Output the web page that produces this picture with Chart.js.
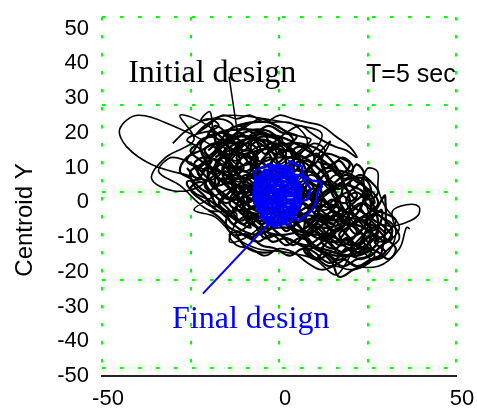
<!DOCTYPE html>
<html><head><meta charset="utf-8">
<script src="https://cdn.jsdelivr.net/npm/chart.js@4"></script>
<style>html,body{margin:0;padding:0;background:#fff;}canvas{display:block;}</style>
</head><body>
<canvas id="c" width="477" height="409"></canvas>
<script>
// ---- tick values / labels ----
const xTickValues = [-50, -25, 0, 25, 50];
const xTickLabels = ['-50', '', '0', '', '50'];
const yGridValues = [-50, -25, 0, 25, 50];
const yTickValues = [-50, -40, -30, -20, -10, 0, 10, 20, 30, 40, 50];
const yTickLabels = ['-50', '-40', '-30', '-20', '-10', '0', '10', '20', '30', '40', '50'];

// ---- series: centroid trajectories [x, y] ----
const initialOuter = [
  [-12,8],[-20,14],[-30,19],[-40,22],[-45,18],[-43,13],[-36,8],[-26,5],[-18,4],
  [-14,12],[-20,19],[-28,22],[-24,15],[-32,10],[-36,4],[-30,0.5],[-22,2],[-18,8],
  [-10,19],[-2,20],[4,19.5],[8,14],[2,8],
  [-8,4],[-20,-2],[-24,-5],[-18,-7],[-12,-13],[-6,-16],[2,-17],[10,-19],[16,-23.5],[19,-20],
  [22,-15],[26,-19],[30,-18],[33,-12],[32,-5.4],[36,-3.5],[39.5,-4],[39.3,-6.5],[36,-8.5],
  [31,-9.5],[26,-7],[24,2],[24.9,6.8],[27.8,6],[28,1],[30,-4],[34,-10],[30,-14],[24,-12],
  [18,-4],[12,8],[14.5,14.5],[12,12],[6,4],
  [0,-4],[-8,-12],[-14,-14],[-12,-6],[-20,-5],[-28,2],[-34,6],[-30,10],[-20,6],[-12,2],
  [0,6],[10,12],[12,17],[6,19],[-4,21],[-14,22],[-22,20.5],[-19.5,23],[-18,16],[-10,10],
  [0,0],[10,-10],[20,-20],[28,-21],[34,-16],[36,-10],[37,-10.3]
];
const initialCore = [
  [-18,10],[-10,15],[-2,14],[2,8],[-4,2],[-12,0],[-16,6],[-12,12],[-4,16],[4,12],[8,4],
  [4,-4],[-4,-6],[-10,-2],[-8,6],[0,10],[8,8],[12,0],[10,-8],[2,-12],[-6,-10],[-10,-4],
  [-14,4],[-20,8],[-22,14],[-16,17],[-8,12],[-6,4],[-12,-4],[-6,-8],[4,-8],[14,-6],[18,2],
  [14,10],[6,14],[-2,12],[-6,6],[-2,-2],[6,-10],[14,-14],[22,-12],[26,-4],[22,4],[14,6],
  [10,-2],[14,-10],[20,-16],[26,-14],[28,-8],[24,0],[16,2],[8,-4],[0,-8],[-8,-6],[-16,0],
  [-20,4],[-18,12],[-12,16],[-4,14],[0,6],[-4,-2],[-10,-6],[-6,-10],[2,-10],[10,-12],
  [18,-10],[20,-2],[16,6],[8,12],[0,16],[-8,16],[-14,10],[-12,2],[-4,-4],[6,-6],[16,-8],
  [24,-10],[28,-14],[22,-18],[12,-16],[4,-14],[-2,-10],[-6,-2],[-2,6],[6,6],[10,0],[6,-8],
  [-2,-6],[-8,0],[-14,8],[-18,16],[-10,18],[-2,16],[4,10],[2,2],[-6,0],[-14,-2],[-18,2],
  [-16,10],[-8,10],[2,4],[12,-2],[20,-6],[26,-10],[24,-16],[16,-18],[8,-14],[8,-6],[14,0],
  [20,4],[24,2],[22,-6],[12,-10],[2,-4],[-6,4],[-12,8],[-6,12],[2,12],[10,8],[16,0],
  [18,-8],[12,-16]
];
const initialWiggleA = [
  [-20,12],[-16,15],[-12,13],[-14,9],[-10,6],[-6,9],[-8,13],[-4,15],[0,12],[-2,8],[2,5],
  [6,8],[4,12],[8,13],[10,9],[7,5],[10,2],[14,4],[12,8],[16,7],[18,3],[15,0],[18,-3],[22,-1],
  [20,3],[24,4],[26,0],[23,-4],[26,-7],[29,-5],[28,-10],[24,-12],[26,-16],[22,-17],[19,-13],
  [16,-16],[12,-14],[14,-10],[10,-8],[6,-11],[3,-8],[6,-5],[2,-3],[-2,-6],[-4,-2],[-8,-4],
  [-10,0],[-14,-2],[-12,2],[-16,4],[-18,1],[-20,5],[-17,8],[-21,10],[-24,8],[-22,4],[-26,3],
  [-24,0],[-20,-2],[-16,-5],[-12,-8],[-8,-10],[-10,-6],[-6,-4],[-2,-1],[1,2],[-3,4],[-6,1],
  [-9,3],[-12,6],[-9,9],[-13,12],[-17,11],[-15,17],[-11,19],[-7,17],[-3,19],[1,17],[5,16],
  [3,13],[7,10],[11,11],[13,7],[17,9],[20,6],[22,8],[24,5],[21,1],[17,-1],[14,-4],[17,-7],
  [21,-9],[24,-7],[27,-9],[30,-12],[27,-14],[30,-17],[26,-19],[22,-21],[18,-19],[14,-20],
  [10,-17],[6,-15],[2,-13],[-2,-14],[-5,-11],[-8,-13],[-12,-11],[-10,-15],[-6,-17],[-2,-17]
];
const initialWiggleB = [
  [-18,6],[-22,9],[-25,12],[-21,15],[-18,19],[-14,16],[-10,12],[-7,15],[-4,11],[-1,14],[2,11],
  [-1,7],[3,3],[0,0],[4,-3],[8,0],[5,4],[9,6],[12,3],[9,-1],[13,-3],[10,-6],[14,-8],[18,-5],
  [20,-9],[17,-12],[20,-15],[24,-13],[21,-9],[25,-6],[28,-3],[25,1],[22,-2],[19,1],[15,3],
  [12,6],[8,9],[4,8],[1,4],[-3,6],[-6,3],[-4,-1],[-8,-2],[-11,2],[-14,0],[-17,-3],[-14,-6],
  [-10,-9],[-7,-6],[-3,-9],[0,-6],[3,-10],[7,-8],[10,-11],[13,-13],[16,-10],[12,-8],[8,-11],
  [4,-15],[0,-12],[-4,-13],[-7,-9],[-11,-5],[-15,-8],[-13,-12],[-9,-12],[-5,-15],[-1,-16],
  [3,-18],[7,-16],[11,-19],[15,-17],[19,-18],[23,-15],[26,-11],[23,-8],[19,-7],[15,-5],
  [11,-3],[7,-1],[3,1],[-1,-2],[-5,0],[-9,4],[-13,4],[-16,7],[-13,10],[-10,14],[-14,14],
  [-18,14],[-22,12],[-26,10],[-28,6],[-25,4],[-22,1],[-18,-1]
];
const initialWiggleC = [
  [-22,6],[-19,9],[-21,12],[-18,14],[-15,12],[-17,9],[-14,7],[-11,9],[-12,12],[-9,14],[-6,12],
  [-8,9],[-5,7],[-2,9],[-3,12],[0,14],[-2,17],[-6,18],[-10,17],[-13,15],[-16,17],[-19,16],
  [-22,15],[-24,12],[-26,9],[-23,7],[-20,4],[-17,2],[-14,3],[-12,0],[-9,2],[-7,-1],[-10,-3],
  [-13,-5],[-11,-8],[-8,-7],[-5,-9],[-2,-7],[-4,-4],[-1,-2],[-3,1],[-6,3],[-9,5],[-12,4],
  [-15,6],[-18,5],[-21,2],[-18,-1],[-15,-3],[-12,-2],[-9,-5],[-6,-6],[-3,-4],[0,-6],[-2,-10],
  [-6,-12],[-10,-11],[-13,-9],[-16,-6],[-19,-4],[-21,-1],[-24,2],[-25,6],[-22,8],[-19,11],
  [-15,14],[-11,16],[-7,15],[-4,13],[-1,11],[2,12],[4,15],[1,18],[-3,20],[-8,20],[-12,19]
];
const initialWiggleD = [
  [2,4],[5,1],[8,3],[11,1],[9,-2],[12,-4],[15,-2],[17,-5],[14,-7],[11,-6],[8,-8],[5,-6],
  [2,-8],[4,-11],[7,-13],[10,-11],[13,-9],[16,-11],[19,-9],[22,-11],[20,-14],[17,-15],
  [14,-13],[11,-15],[8,-17],[11,-19],[14,-21],[17,-20],[20,-18],[23,-19],[26,-17],[24,-14],
  [27,-12],[30,-14],[32,-11],[30,-8],[27,-6],[24,-8],[21,-6],[19,-2],[22,0],[25,-2],[28,0],
  [26,3],[23,5],[20,3],[17,1],[14,2],[11,5],[14,7],[17,5],[20,8],[17,10],[13,11],[10,8],
  [7,6],[4,8],[1,6],[4,3],[7,0],[10,-3],[13,-6],[16,-8],[19,-12],[22,-15],[25,-10],[28,-4],
  [30,-1],[29,-17],[25,-20],[21,-22],[17,-24],[15,-20],[12,-17],[9,-14],[6,-10],[3,-5],[0,-3]
];
const initialWiggleE = [
  [-30,14],[-27,17],[-24,19],[-20,21],[-17,19],[-20,17],[-16,15],[-12,17],[-9,19],[-5,21],
  [-1,19],[3,17],[6,16],[9,15],[6,12],[3,10],[0,8],[-3,10],[-6,8],[-9,11],[-12,9],[-15,10],
  [-18,8],[-15,5],[-11,3],[-7,5],[-4,3],[-1,5],[2,2],[5,4],[8,6],[11,4],[14,1],[16,-3],
  [13,-5],[10,-4],[7,-6],[4,-4],[1,-6],[-2,-4],[-5,-7],[-8,-9],[-11,-11],[-14,-12],[-12,-15],
  [-8,-16],[-4,-18],[0,-16],[4,-17],[8,-20],[12,-22],[16,-21],[20,-22],[24,-21],[27,-18],
  [24,-16],[20,-14],[16,-13],[12,-12],[8,-9],[11,-7],[15,-8],[19,-6],[23,-3],[26,-5],
  [29,-7],[32,-9],[34,-13],[31,-16],[28,-19]
];
const initialWiggleF = [
  [-24,16],[-21,19],[-17,21],[-13,19],[-15,16],[-11,14],[-7,17],[-3,16],[1,15],[-1,12],[3,10],
  [7,12],[10,14],[13,12],[11,9],[15,8],[18,10],[21,7],[19,4],[16,5],[13,3],[9,5],[6,3],[2,6],
  [-2,4],[-5,6],[-9,8],[-13,6],[-16,9],[-20,10],[-23,13],[-26,15],[-22,17],[-18,17],[-14,13],
  [-10,11],[-6,13],[-2,14],[2,17],[6,19],[9,17],[12,15],[16,13],[19,12],[22,10],[20,13],
  [16,16],[12,19],[8,20],[4,21],[0,22],[-4,20],[-8,22],[-12,21],[-16,22],[-20,19],[-23,17]
];
const initialWiggleG = [
  [-26,7],[-23,4],[-20,7],[-17,4],[-14,1],[-11,-2],[-8,1],[-5,-2],[-2,-5],[1,-3],[4,-6],[7,-3],
  [10,-6],[13,-9],[16,-6],[19,-9],[22,-12],[25,-9],[28,-11],[26,-14],[23,-16],[20,-13],
  [17,-10],[14,-12],[11,-9],[8,-12],[5,-9],[2,-11],[-1,-8],[-4,-10],[-7,-7],[-10,-9],
  [-13,-6],[-16,-3],[-19,0],[-22,3],[-25,1],[-22,-2],[-18,-4],[-15,-1],[-12,2],[-9,0],[-6,3],
  [-3,0],[0,2],[3,0],[6,-2],[9,1],[12,-1],[15,-4],[18,-1],[21,-4],[24,-6],[27,-8],[30,-10],
  [32,-13],[29,-15],[26,-18],[22,-19],[18,-21],[14,-18],[10,-15],[6,-13],[2,-15],[-2,-12],
  [-6,-14],[-10,-12],[-14,-10],[-17,-7],[-20,-5]
];
const initialWiggleH = [
  [6,-2],[9,-5],[12,-2],[15,-5],[18,-8],[21,-5],[24,-3],[27,-5],[30,-6],[33,-8],[31,-11],
  [28,-13],[25,-11],[22,-8],[19,-11],[16,-14],[13,-12],[10,-14],[7,-16],[10,-19],[13,-17],
  [16,-19],[19,-16],[22,-18],[25,-16],[28,-17],[31,-19],[33,-16],[30,-13],[27,-10],[24,-12],
  [21,-15],[18,-17],[15,-15],[12,-11],[9,-9],[6,-7],[3,-9],[6,-12],[9,-11],[12,-7],[15,-9],
  [18,-6],[21,-3],[24,-1],[27,-3],[25,1],[22,3],[19,5],[16,3],[13,0],[10,-2],[7,1],[4,-2]
];
const initialWiggleI = [
  [-20,0],[-17,3],[-19,6],[-16,8],[-13,5],[-10,7],[-12,10],[-9,12],[-6,10],[-8,7],[-5,4],
  [-8,2],[-11,0],[-14,-3],[-11,-5],[-8,-2],[-5,-4],[-7,-7],[-10,-7],[-13,-9],[-15,-6],
  [-18,-3],[-21,3],[-23,6],[-20,9],[-17,12],[-14,15],[-11,17],[-8,15],[-5,17],[-3,14],
  [-6,11],[-9,8],[-12,7],[-15,3],[-12,-1],[-9,-3],[-6,-1],[-3,2],[-6,6],[-10,4],[-14,9],
  [-18,13],[-15,11],[-11,11],[-7,9]
];
const finalPath = [
  [-3,0],[-6,4],[-2,7],[2,6],[4,2],[0,-2],[-5,-4],[-7,0],[-5,5],[0,8],[4,5],[5,-1],[2,-6],
  [-3,-8],[-6,-5],[-4,-1],[-1,3],[3,3],[1,-3],[-4,-6],[-7,-3],[-6,2],[-3,5],[1,1],[-2,-4],
  [1,-8],[4,-5],[5,2],[2,7],[-3,8],[-7,6],[-6,-2],[-2,-9],[3,-9],[6,-4],[5,3],[3,8.8],
  [6.5,7.4],[6.8,4.8],[9.3,3.4],[11.6,3.1],[12.1,1.7],[11,0.3],[10.5,-2.6],[9.3,-5.1],
  [7.3,-6.8],[5.4,-8],[4,-7],[5,-3],[8,-2],[9,1],[6,5],[1,5],[-4,3],
  [-6,-1],[-3,-3],[0,0],[-2,2],[-5,0],[-3,-6],[0,-5],[2,0],[0,4],[-4,6],[-6,1],[-5,-7],
  [-1,-10],[2,-6],[-1,-1],[-3,3]
];
const finalFill = [
  [-3,7],[2,7.6],[3,6.2],[-4,6.4],[-5,5.2],[4,5.4],[5,4.2],[-6,4.4],[-6.5,3.1],[5,3.3],
  [6,2.1],[-7,2.3],[-7,1.1],[6.3,0.9],[6,-0.1],[-7.2,0.1],[-7,-1.1],[6,-0.9],[5.8,-2.1],
  [-7,-2],[-6.2,-3.2],[5,-3],[5.3,-4.1],[-6,-4],[-6,-5.1],[4,-5],[4.4,-6.2],[-5,-6],
  [-5.2,-7.1],[3,-7],[2,-8.2],[-4,-8],[-3,-9.1],[1,-9.2]
];
const initialPointer = [[-14.1,33],[-11,12]];
const finalPointer = [[-21.5,-28.8],[-3.1,-9.1]];

// ---- text annotations (data coordinates on x / y axes) ----
const notes = [
  {text: 'Initial design', x: -42.6, y: 31.6, color: '#000', font: '32px "Liberation Serif", "Times New Roman", serif'},
  {text: 'T=5 sec', x: 24.6, y: 31.6, color: '#000', font: '25px "Liberation Sans", Arial, sans-serif'},
  {text: 'Final design', x: -30.2, y: -38.5, color: '#0000ff', font: '32px "Liberation Serif", "Times New Roman", serif'}
];
const yTitle = 'Centroid Y';

const notesPlugin = {
  id: 'notes',
  afterDatasetsDraw(chart) {
    const ctx = chart.ctx, xs = chart.scales.x, ys = chart.scales.y;
    ctx.save();
    ctx.textAlign = 'left';
    ctx.textBaseline = 'alphabetic';
    notes.forEach(n => {
      ctx.font = n.font;
      ctx.fillStyle = n.color;
      ctx.fillText(n.text, xs.getPixelForValue(n.x), ys.getPixelForValue(n.y));
    });
    ctx.translate(25, 220);
    ctx.rotate(-Math.PI / 2);
    ctx.textAlign = 'center';
    ctx.textBaseline = 'middle';
    ctx.font = '24px "Liberation Sans", Arial, sans-serif';
    ctx.fillStyle = '#000';
    ctx.fillText(yTitle, 0, 0);
    ctx.restore();
  }
};

const gridGreen = '#00ff00';
const tickFont = {family: '"Liberation Sans", Arial, sans-serif', size: 22};
const black = (d, w, t) => ({data: d, borderColor: '#000', borderWidth: w, showLine: true, tension: t});
const blue = (d, w) => ({data: d, borderColor: '#0000ff', borderWidth: w, showLine: true, tension: 0});

new Chart(document.getElementById('c'), {
  type: 'scatter',
  data: {
    datasets: [
      blue(finalPointer, 2),
      blue(finalPath, 2.6),
      blue(finalFill, 3),
      black(initialPointer, 1.5, 0),
      black(initialCore, 2.4, 0.35),
      black(initialWiggleA, 2.2, 0.4),
      black(initialWiggleB, 2.2, 0.4),
      black(initialWiggleC, 2.2, 0.4),
      black(initialWiggleD, 2.2, 0.4),
      black(initialWiggleE, 1.8, 0.4),
      black(initialWiggleF, 1.8, 0.4),
      black(initialWiggleG, 2.2, 0.4),
      black(initialWiggleH, 2.2, 0.4),
      black(initialWiggleI, 2.2, 0.4),
      black(initialOuter, 1.6, 0.35)
    ]
  },
  options: {
    responsive: false,
    animation: false,
    events: [],
    layout: {padding: {top: 17, right: 21, bottom: 0, left: 0}},
    elements: {point: {radius: 0}},
    plugins: {legend: {display: false}, tooltip: {enabled: false}, title: {display: false}},
    scales: {
      x: {
        type: 'linear', position: 'bottom', min: -50, max: 50,
        afterBuildTicks: s => { s.ticks = xTickValues.map(v => ({value: v})); },
        afterFit: s => { s.height = 33; s.paddingLeft = 0; s.paddingRight = 0; },
        ticks: {callback: (v, i) => xTickLabels[i], autoSkip: false, maxRotation: 0,
                font: tickFont, color: '#000', padding: 10, labelOffset: 6},
        grid: {color: gridGreen, lineWidth: 2, drawTicks: false},
        border: {display: true, color: '#222', width: 2, dash: [3.5, 14.5]}
      },
      y: {
        type: 'linear', position: 'left', min: -52.28, max: 50,
        afterBuildTicks: s => { s.ticks = yGridValues.map(v => ({value: v})); },
        afterFit: s => { s.width = 0; s.paddingTop = 0; s.paddingBottom = 0; },
        ticks: {display: false},
        grid: {color: gridGreen, lineWidth: 2, drawTicks: false},
        border: {display: false, dash: [3.5, 14.5]}
      },
      y2: {
        type: 'linear', position: 'left', min: -50, max: 53.3,
        afterBuildTicks: s => { s.ticks = yTickValues.map(v => ({value: v})); },
        afterFit: s => { s.width = 102; s.paddingTop = 0; s.paddingBottom = 0; },
        ticks: {callback: (v, i) => yTickLabels[i], autoSkip: false, font: tickFont,
                color: '#000', padding: 13},
        grid: {display: false, drawTicks: false},
        border: {display: false}
      }
    }
  },
  plugins: [notesPlugin]
});
</script>
</body></html>
